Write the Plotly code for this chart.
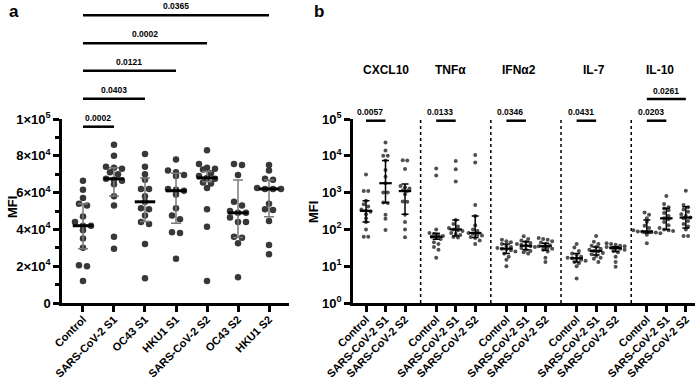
import math
import plotly.graph_objects as go

W, H = 700, 383

# ---------------- DATA ----------------
cats_a = ["Control", "SARS-CoV-2 S1", "OC43 S1", "HKU1 S1", "SARS-CoV-2 S2", "OC43 S2", "HKU1 S2"]
control_a = [66500, 61500, 57000, 54000, 53000, 47000, 44000, 42000, 42000, 39500, 35000, 30000, 20500, 20000, 12000]
sars_s1_a = [86000, 80000, 74000, 73500, 73000, 71000, 70000, 67500, 67000, 66500, 64500, 58000, 53000, 36000, 29500]
oc43_s1_a = [81000, 74000, 70000, 67000, 62000, 62000, 58000, 55000, 51500, 51000, 47500, 44000, 43000, 32000, 13500]
hku1_s1_a = [78000, 72000, 71000, 69500, 69000, 62000, 61500, 61000, 59000, 51500, 47500, 45500, 38500, 38000, 24000]
sars_s2_a = [83000, 75500, 73500, 73000, 72500, 70500, 69000, 68000, 67500, 65500, 65000, 62500, 51000, 41500, 12000]
oc43_s2_a = [75500, 75000, 69500, 55000, 53000, 50000, 49000, 49000, 46500, 44000, 44000, 36000, 35500, 32500, 14000]
hku1_s2_a = [75000, 72000, 67500, 67000, 62500, 62000, 62000, 62000, 54000, 51000, 50500, 44500, 31500, 26500]
series_a = [control_a, sars_s1_a, oc43_s1_a, hku1_s1_a, sars_s2_a, oc43_s2_a, hku1_s2_a]
median_a = [42000, 67500, 55000, 61000, 68000, 49000, 62000]
q1_a = [29500, 58200, 44300, 43300, 65900, 35600, 46900]
q3_a = [54000, 73500, 68000, 70500, 71500, 66800, 66800]

# significance brackets panel a: (from category, to category, label)
sig_a_from = [0, 0, 0, 0, 0]
sig_a_to = [1, 2, 3, 4, 6]
sig_a_text = ["0.0002", "0.0403", "0.0121", "0.0002", "0.0365"]

cyto_b = ["CXCL10", "TNFα", "IFNα2", "IL-7", "IL-10"]
groups_b = ["Control", "SARS-CoV-2 S1", "SARS-CoV-2 S2"]
cxcl10_b = [
    [3100, 1100, 1100, 600, 480, 420, 350, 320, 300, 260, 200, 160, 100, 63, 63],
    [23000, 14000, 10000, 10000, 7500, 4100, 2700, 1800, 1000, 1000, 540, 520, 250, 195, 96],
    [7600, 7500, 4400, 1500, 1400, 1300, 1150, 1100, 900, 570, 560, 250, 160, 100, 61],
]
tnfa_b = [
    [4500, 2900, 100, 80, 75, 70, 66, 63, 60, 55, 45, 40, 33, 28, 17],
    [7200, 4300, 2000, 180, 140, 120, 110, 100, 95, 90, 80, 75, 70, 62, 60],
    [10500, 6600, 460, 230, 130, 100, 90, 80, 76, 72, 68, 62, 58, 50, 40],
]
ifna2_b = [
    [52, 48, 45, 40, 36, 33, 31, 30, 29, 27, 25, 22, 18, 15, 10],
    [65, 55, 50, 46, 43, 40, 38, 36, 35, 33, 31, 28, 26, 24, 22],
    [58, 55, 52, 48, 44, 40, 37, 35, 34, 32, 30, 28, 25, 17, 13],
]
il7_b = [
    [40, 32, 26, 22, 20, 18, 17, 16.5, 16, 15, 14, 13, 12, 10, 4.6],
    [66, 46, 40, 36, 33, 30, 28, 26, 25, 23, 21, 19, 17, 16, 13],
    [42, 40, 38, 36, 35, 33, 32, 31, 30, 28, 26, 24, 18, 13, 9.7],
]
il10_b = [
    [290, 250, 200, 160, 125, 110, 95, 88, 87, 86, 84, 82, 78, 72, 42],
    [810, 490, 400, 370, 330, 280, 230, 200, 190, 160, 130, 110, 100, 95, 90],
    [1120, 460, 400, 350, 300, 260, 230, 210, 200, 170, 140, 120, 100, 66, 66],
]
series_b = [cxcl10_b, tnfa_b, ifna2_b, il7_b, il10_b]
median_b = [[320, 1800, 1100], [63, 100, 80], [30, 36, 35], [16.5, 26, 31], [88, 200, 210]]
q1_b = [[160, 530, 257], [54, 66, 60], [22, 28, 27], [13, 20, 25], [80, 100, 110]]
q3_b = [[600, 7500, 1700], [78, 180, 230], [40, 46, 42], [22, 33, 34], [180, 375, 415]]

# significance panel b: (cytokine index, from group, to group, label)
sig_b_cyto = [0, 1, 2, 3, 4, 4]
sig_b_from = [0, 0, 0, 0, 0, 0]
sig_b_to = [1, 1, 1, 1, 1, 2]
sig_b_text = ["0.0057", "0.0133", "0.0346", "0.0431", "0.0203", "0.0261"]

# ---------------- LAYOUT GEOMETRY ----------------
Y_BOT, Y_TOP = 303, 119           # pixel rows of plot bottom / top
AX_L, AX_R = 62, 289              # panel a x extent
BX_L, BX_R = 353, 695             # panel b x extent
A_RANGE = [-0.677, 6.645]
B_GAP = 3.6
B_RANGE = [-0.667, 16.87]

def pyp(px):  # pixel row -> paper y
    return 1 - px / H

FONT = "Liberation Sans, Arial, Helvetica, sans-serif"

def swarm(vals, to_px, step_units, row_px):
    order = sorted(range(len(vals)), key=lambda i: -to_px(vals[i]))
    offs = [0.0] * len(vals)
    rows, cur = [], []
    for i in order:
        if cur and abs(to_px(vals[i]) - to_px(vals[cur[0]])) >= row_px:
            rows.append(cur)
            cur = []
        cur.append(i)
    if cur:
        rows.append(cur)
    for r in rows:
        k = len(r)
        for j, i in enumerate(r):
            offs[i] = (j - (k - 1) / 2) * step_units
    return offs

fig = go.Figure()

# ---- panel a ----
a_pxu = (AX_R - AX_L) / (A_RANGE[1] - A_RANGE[0])
a_pyv = (Y_BOT - Y_TOP) / 100000
for ci, vals in enumerate(series_a):
    offs = swarm(vals, lambda v: v * a_pyv, 8 / a_pxu, 5.5)
    fig.add_trace(go.Scatter(x=[ci + o for o in offs], y=vals, mode="markers",
                             marker=dict(size=6.5, color="#383838"),
                             xaxis="x", yaxis="y", showlegend=False, hoverinfo="y"))
fig.add_trace(go.Scatter(
    x=list(range(len(cats_a))), y=median_a, mode="markers", marker=dict(size=1, color="rgba(0,0,0,0)"),
    error_y=dict(type="data", symmetric=False,
                 array=[q3_a[i] - median_a[i] for i in range(len(median_a))],
                 arrayminus=[median_a[i] - q1_a[i] for i in range(len(median_a))],
                 color="#7a7a7a", thickness=1.5, width=5),
    xaxis="x", yaxis="y", showlegend=False, hoverinfo="skip"))
mx, my = [], []
for ci, m in enumerate(median_a):
    mx += [ci - 0.33, ci + 0.33, None]
    my += [m, m, None]
fig.add_trace(go.Scatter(x=mx, y=my, mode="lines", line=dict(color="black", width=3),
                         xaxis="x", yaxis="y", showlegend=False, hoverinfo="skip"))

# ---- panel b ----
b_pxu = (BX_R - BX_L) / (B_RANGE[1] - B_RANGE[0])
b_pyd = (Y_BOT - Y_TOP) / 5
b_tickvals, b_ticktext = [], []
for g, cyt in enumerate(series_b):
    for k, vals in enumerate(cyt):
        xc = g * B_GAP + k
        b_tickvals.append(xc)
        b_ticktext.append(groups_b[k])
        offs = swarm(vals, lambda v: math.log10(v) * b_pyd, 4.5 / b_pxu, 3.5)
        fig.add_trace(go.Scatter(x=[xc + o for o in offs], y=vals, mode="markers",
                                 marker=dict(size=4, color="#505050"),
                                 xaxis="x2", yaxis="y2", showlegend=False, hoverinfo="y"))
bx, bm, bq1, bq3 = [], [], [], []
for g in range(len(series_b)):
    for k in range(3):
        bx.append(g * B_GAP + k)
        bm.append(median_b[g][k]); bq1.append(q1_b[g][k]); bq3.append(q3_b[g][k])
fig.add_trace(go.Scatter(
    x=bx, y=bm, mode="markers", marker=dict(size=1, color="rgba(0,0,0,0)"),
    error_y=dict(type="data", symmetric=False,
                 array=[bq3[i] - bm[i] for i in range(len(bm))],
                 arrayminus=[bm[i] - bq1[i] for i in range(len(bm))],
                 color="black", thickness=1.5, width=3.5),
    xaxis="x2", yaxis="y2", showlegend=False, hoverinfo="skip"))
mx, my = [], []
for i, m in enumerate(bm):
    mx += [bx[i] - 0.32, bx[i] + 0.32, None]
    my += [m, m, None]
fig.add_trace(go.Scatter(x=mx, y=my, mode="lines", line=dict(color="black", width=2.2),
                         xaxis="x2", yaxis="y2", showlegend=False, hoverinfo="skip"))

shapes, annos = [], []

def anno(**kw):
    kw.setdefault("showarrow", False)
    kw.setdefault("xanchor", "center")
    kw.setdefault("yanchor", "middle")
    annos.append(kw)

SIGFONT = dict(size=8.5, family=FONT, weight="bold", color="black")
# brackets panel a
a_line_px = [126.7, 98.7, 70.7, 43.3, 15.3]
for i in range(len(sig_a_text)):
    yl = a_line_px[i]
    shapes.append(dict(type="line", xref="x", yref="paper", x0=sig_a_from[i], x1=sig_a_to[i],
                       y0=pyp(yl), y1=pyp(yl), line=dict(color="black", width=2.5)))
    anno(xref="x", yref="paper", x=(sig_a_from[i] + sig_a_to[i]) / 2, y=pyp(yl - 9),
         text=sig_a_text[i], font=SIGFONT)
# brackets panel b
for i in range(len(sig_b_text)):
    g = sig_b_cyto[i]
    yl = 120.7 if sig_b_to[i] == 1 else 99
    x0 = g * B_GAP + sig_b_from[i]
    x1 = g * B_GAP + sig_b_to[i]
    shapes.append(dict(type="line", xref="x2", yref="paper", x0=x0, x1=x1,
                       y0=pyp(yl), y1=pyp(yl), line=dict(color="black", width=2.5)))
    anno(xref="x2", yref="paper", x=(x0 + x1) / 2 if sig_b_to[i] == 2 else x0 + 0.2,
         y=pyp(yl - 8.5), text=sig_b_text[i], font=SIGFONT)
# dotted separators
for g in range(1, len(series_b)):
    xs = g * B_GAP - (B_GAP - 2) / 2
    shapes.append(dict(type="line", xref="x2", yref="paper", x0=xs, x1=xs,
                       y0=pyp(Y_BOT), y1=pyp(120), line=dict(color="black", width=1.5, dash="dot")))
# cytokine titles
title_shift = [0, -0.25, -0.35, -0.1, -0.3]
for g, name in enumerate(cyto_b):
    anno(xref="x2", yref="paper", x=g * B_GAP + 1 + title_shift[g], y=pyp(70), text=name,
         font=dict(size=12, family=FONT, weight="bold", color="black"))
# MFI titles
anno(xref="paper", yref="paper", x=12 / W, y=pyp(207), text="MFI", textangle=-90,
     font=dict(size=13, family=FONT, weight="bold", color="black"))
anno(xref="paper", yref="paper", x=313 / W, y=pyp(212), text="MFI", textangle=-90,
     font=dict(size=13, family=FONT, weight="bold", color="black"))
# panel letters
anno(xref="paper", yref="paper", x=14 / W, y=pyp(11), text="a",
     font=dict(size=17, family=FONT, weight="bold", color="black"))
anno(xref="paper", yref="paper", x=319 / W, y=pyp(11), text="b",
     font=dict(size=17, family=FONT, weight="bold", color="black"))

xtickfont = dict(size=11, family=FONT, color="black", weight="bold")
ytickfont = dict(size=13, family=FONT, color="black", weight="bold")
common_x = dict(showline=True, linecolor="black", linewidth=2.5, ticks="outside", ticklen=6,
                tickwidth=2.5, tickcolor="black", tickangle=-45, tickfont=xtickfont,
                ticklabelstandoff=-3,
                showgrid=False, zeroline=False, fixedrange=True, automargin=False)
common_y = dict(showline=True, linecolor="black", linewidth=2.5, ticks="outside", ticklen=6,
                tickwidth=2.5, tickcolor="black", tickfont=ytickfont, showgrid=False, zeroline=False,
                domain=[1 - Y_BOT / H, 1 - Y_TOP / H], fixedrange=True, automargin=False)

fig.update_layout(
    width=W, height=H, margin=dict(l=0, r=0, t=0, b=0, pad=0, autoexpand=False),
    paper_bgcolor="white", plot_bgcolor="white",
    font=dict(family=FONT, color="black"),
    xaxis=dict(domain=[AX_L / W, AX_R / W], range=A_RANGE, tickmode="array",
               tickvals=list(range(len(cats_a))), ticktext=cats_a, anchor="y", **common_x),
    yaxis=dict(range=[0, 100000], tickmode="array",
               tickvals=[0, 20000, 40000, 60000, 80000, 100000],
               ticktext=["0", "2×10<sup>4</sup>", "4×10<sup>4</sup>", "6×10<sup>4</sup>",
                         "8×10<sup>4</sup>", "1×10<sup>5</sup>"],
               minor=dict(tickvals=[10000, 30000, 50000, 70000, 90000], ticks="outside",
                          ticklen=4, tickwidth=2.5, tickcolor="black"),
               anchor="x", **common_y),
    xaxis2=dict(domain=[BX_L / W, BX_R / W], range=B_RANGE, tickmode="array",
                tickvals=b_tickvals, ticktext=b_ticktext, anchor="y2", **common_x),
    yaxis2=dict(type="log", range=[0, 5], tickmode="array",
                tickvals=[1, 10, 100, 1000, 10000, 100000],
                ticktext=["10<sup>0</sup>", "10<sup>1</sup>", "10<sup>2</sup>", "10<sup>3</sup>",
                          "10<sup>4</sup>", "10<sup>5</sup>"],
                anchor="x2", **common_y),
    shapes=shapes, annotations=annos,
)

fig.write_html("out.html")
